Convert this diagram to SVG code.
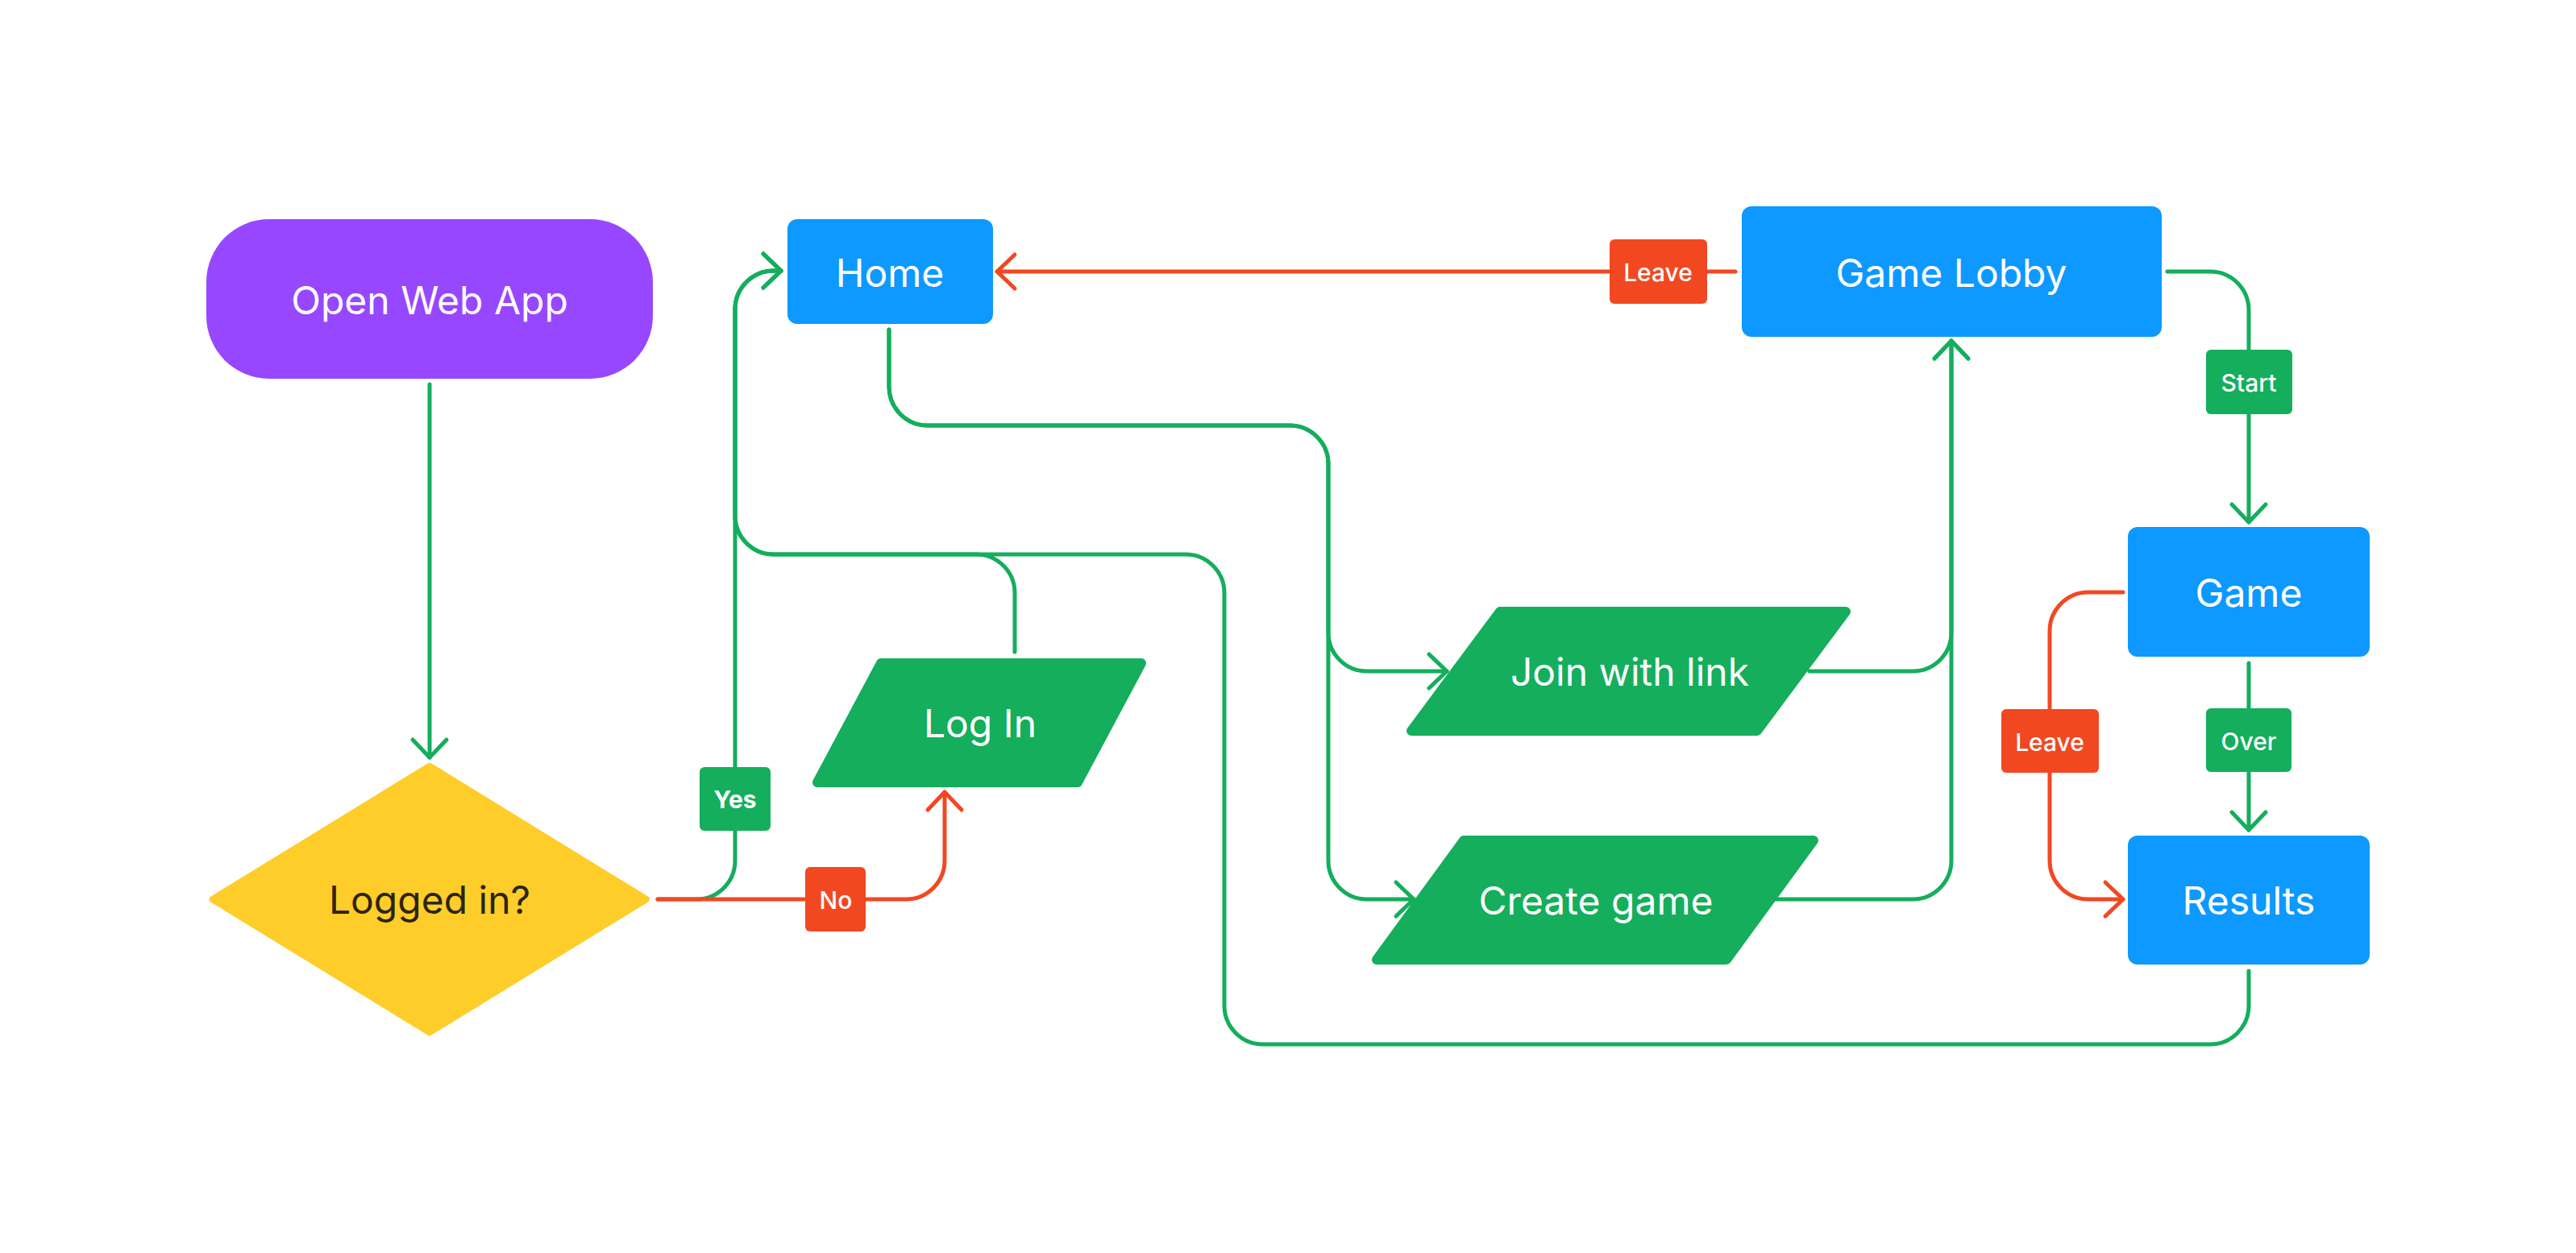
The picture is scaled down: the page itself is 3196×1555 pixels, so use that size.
<svg xmlns="http://www.w3.org/2000/svg" width="3196" height="1555" viewBox="0 0 3196 1555">
<style>
.node-text{font-family:Inter,"Noto Sans","Liberation Sans",sans-serif;font-size:48px;fill:#FFFFFF;text-anchor:middle}
.lbl-text{font-family:Inter,"Noto Sans","Liberation Sans",sans-serif;font-size:30px;font-weight:500;fill:#FFFFFF;text-anchor:middle}
.g{fill:none;stroke:#14AE5C;stroke-width:5;stroke-linecap:round;stroke-linejoin:round}
.r{fill:none;stroke:#F24822;stroke-width:5;stroke-linecap:round;stroke-linejoin:round}
.blue{fill:#0D99FF}
.para{fill:#14AE5C;stroke:#14AE5C;stroke-width:12;stroke-linejoin:round}
.lg{fill:#14AE5C}
.lr{fill:#F24822}
</style>
<defs>
<marker id="ag" markerUnits="userSpaceOnUse" viewBox="-30 -30 40 60" markerWidth="40" markerHeight="60" refX="0" refY="0" orient="auto" style="overflow:visible">
<path d="M-22,-21 L0,0 L-22,21" fill="none" stroke="#14AE5C" stroke-width="5" stroke-linecap="round" stroke-linejoin="round"/>
</marker>
<marker id="ar" markerUnits="userSpaceOnUse" viewBox="-30 -30 40 60" markerWidth="40" markerHeight="60" refX="0" refY="0" orient="auto" style="overflow:visible">
<path d="M-22,-21 L0,0 L-22,21" fill="none" stroke="#F24822" stroke-width="5" stroke-linecap="round" stroke-linejoin="round"/>
</marker>
</defs>
<rect width="3196" height="1555" fill="#FFFFFF"/>

<g id="connectors">
<path class="g" marker-end="url(#ag)" d="M533,477 L533,940"/>
<path class="g" marker-end="url(#ag)" d="M816,1116 L864,1116 A48,48 0 0 0 912,1068 L912,384 A48,48 0 0 1 960,336 L969,336"/>
<path class="g" marker-end="url(#ag)" d="M1259,809 L1259,736 A48,48 0 0 0 1211,688 L960,688 A48,48 0 0 1 912,640 L912,384 A48,48 0 0 1 960,336 L969,336"/>
<path class="g" marker-end="url(#ag)" d="M2790,1205 L2790,1248 A48,48 0 0 1 2742,1296 L1567,1296 A48,48 0 0 1 1519,1248 L1519,736 A48,48 0 0 0 1471,688 L960,688 A48,48 0 0 1 912,640 L912,384 A48,48 0 0 1 960,336 L969,336"/>
<path class="g" marker-end="url(#ag)" d="M1103,409 L1103,480 A48,48 0 0 0 1151,528 L1600,528 A48,48 0 0 1 1648,576 L1648,785 A48,48 0 0 0 1696,833 L1795,833"/>
<path class="g" marker-end="url(#ag)" d="M1103,409 L1103,480 A48,48 0 0 0 1151,528 L1600,528 A48,48 0 0 1 1648,576 L1648,1068 A48,48 0 0 0 1696,1116 L1754,1116"/>
<path class="g" marker-end="url(#ag)" d="M2245,833 L2373,833 A48,48 0 0 0 2421,785 L2421,423"/>
<path class="g" marker-end="url(#ag)" d="M2203,1116 L2373,1116 A48,48 0 0 0 2421,1068 L2421,423"/>
<path class="g" marker-end="url(#ag)" d="M2689,337 L2742,337 A48,48 0 0 1 2790,385 L2790,648"/>
<path class="g" marker-end="url(#ag)" d="M2790,823 L2790,1030"/>
<path class="r" marker-end="url(#ar)" d="M816,1116 L1124,1116 A48,48 0 0 0 1172,1068 L1172,983"/>
<path class="r" marker-end="url(#ar)" d="M2153,337 L1237,337"/>
<path class="r" marker-end="url(#ar)" d="M2634,735 L2591,735 A48,48 0 0 0 2543,783 L2543,1068 A48,48 0 0 0 2591,1116 L2634,1116"/>
</g>

<g id="edge-labels">
<g id="label-yes"><rect class="lg" x="868" y="952" width="88" height="79" rx="6"/><text class="lbl-text" x="912" y="1003" style="font-weight:700">Yes</text></g>
<g id="label-no"><rect class="lr" x="999" y="1076" width="75" height="80" rx="6"/><text class="lbl-text" x="1037" y="1128">No</text></g>
<g id="label-leave-lobby"><rect class="lr" x="1997" y="297" width="121" height="80" rx="6"/><text class="lbl-text" x="2057" y="349">Leave</text></g>
<g id="label-start"><rect class="lg" x="2737" y="434" width="107" height="80" rx="6"/><text class="lbl-text" x="2790" y="486">Start</text></g>
<g id="label-over"><rect class="lg" x="2737" y="879" width="106" height="79" rx="6"/><text class="lbl-text" x="2790" y="931">Over</text></g>
<g id="label-leave-game"><rect class="lr" x="2483" y="880" width="121" height="79" rx="6"/><text class="lbl-text" x="2543" y="932">Leave</text></g>
</g>

<g id="node-open">
<rect x="256" y="272" width="554" height="198" rx="78" fill="#9747FF"/>
<text class="node-text" x="533" y="390">Open Web App</text>
</g>
<g id="node-logged">
<polygon points="533,950.7 802,1116 533,1281.3 263.6,1116" fill="#FFCD29" stroke="#FFCD29" stroke-width="8" stroke-linejoin="round"/>
<text class="node-text" x="533" y="1134" style="fill:#2B2410">Logged in?</text>
</g>
<g id="node-home">
<rect class="blue" x="977" y="272" width="255" height="130" rx="12"/>
<text class="node-text" x="1104" y="356">Home</text>
</g>
<g id="node-login">
<polygon class="para" points="1093,823 1416,823 1337,971 1014,971"/>
<text class="node-text" x="1216" y="915">Log In</text>
</g>
<g id="node-join">
<polygon class="para" points="1861,759 2290,759 2180,907 1751,907"/>
<text class="node-text" x="2022" y="851">Join with link</text>
</g>
<g id="node-create">
<polygon class="para" points="1816,1043 2250,1043 2142,1191 1708,1191"/>
<text class="node-text" x="1980" y="1135">Create game</text>
</g>
<g id="node-lobby">
<rect class="blue" x="2161" y="256" width="521" height="162" rx="12"/>
<text class="node-text" x="2421" y="356">Game Lobby</text>
</g>
<g id="node-game">
<rect class="blue" x="2640" y="654" width="300" height="161" rx="12"/>
<text class="node-text" x="2790" y="753">Game</text>
</g>
<g id="node-results">
<rect class="blue" x="2640" y="1037" width="300" height="160" rx="12"/>
<text class="node-text" x="2790" y="1135">Results</text>
</g>
</svg>
